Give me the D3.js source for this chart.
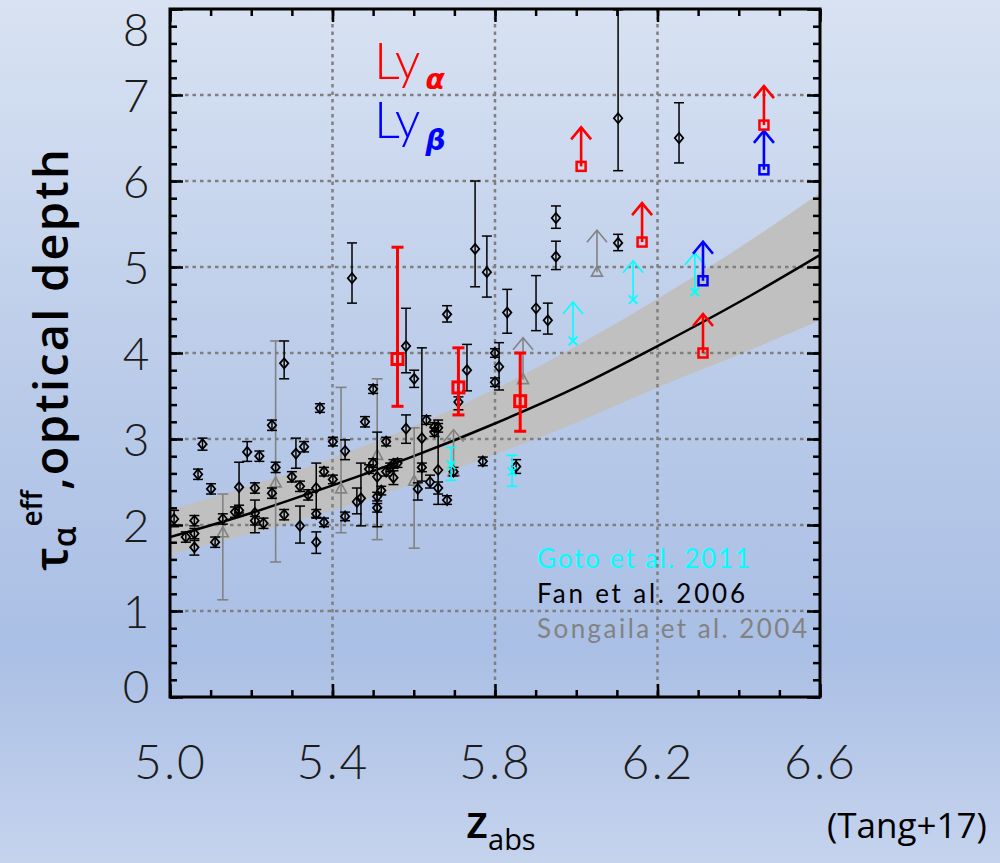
<!DOCTYPE html>
<html><head><meta charset="utf-8">
<script src="https://cdn.jsdelivr.net/npm/d3@7"></script>
<style>
html,body{margin:0;padding:0;}
body{width:1000px;height:863px;overflow:hidden;}
</style></head><body>
<svg id="c" width="1000" height="863"></svg>
<script>
// ---------------- DATA ----------------
// Fan et al. 2006 : [z, tau, lo, hi]
const fanData = [
[5.010,2.07,1.98,2.17],[5.039,1.86,1.80,1.92],[5.060,2.05,1.99,2.11],[5.060,1.90,1.84,1.96],
[5.060,1.74,1.65,1.82],[5.069,2.59,2.53,2.65],[5.080,2.94,2.87,3.01],[5.101,2.42,2.36,2.48],
[5.111,1.80,1.74,1.86],[5.130,2.07,2.01,2.13],[5.160,2.15,2.09,2.21],[5.170,2.17,2.11,2.23],
[5.170,2.44,2.14,2.73],[5.190,2.85,2.74,2.97],[5.209,2.43,2.37,2.49],[5.209,2.14,1.91,2.29],
[5.209,2.05,2.00,2.10],[5.220,2.80,2.74,2.86],[5.230,2.02,1.96,2.08],[5.251,3.16,3.10,3.22],
[5.251,2.37,2.31,2.43],[5.260,2.67,2.61,2.73],[5.281,3.88,3.70,4.14],[5.281,2.12,2.06,2.18],
[5.300,2.56,2.50,2.62],[5.310,2.83,2.66,3.01],[5.320,2.45,2.39,2.51],[5.320,1.99,1.79,2.22],
[5.330,2.91,2.85,2.97],[5.340,2.35,2.29,2.41],[5.360,2.43,2.09,2.72],[5.360,2.13,2.08,2.18],
[5.360,1.80,1.67,1.92],[5.369,3.36,3.31,3.41],[5.379,2.62,2.57,2.67],[5.379,2.03,1.98,2.08],
[5.401,2.97,2.92,3.02],[5.401,2.53,2.48,2.58],[5.431,2.86,2.76,2.99],[5.431,2.10,2.05,2.15],
[5.448,4.87,4.58,5.28],[5.460,2.27,2.13,2.43],[5.470,2.31,1.99,2.72],[5.480,3.20,3.14,3.26],
[5.490,2.65,2.60,2.70],[5.500,3.58,3.53,3.63],[5.500,2.72,2.67,2.77],[5.510,2.56,1.98,3.08],
[5.510,2.33,2.28,2.38],[5.510,2.20,2.15,2.25],[5.520,2.40,2.35,2.45],[5.532,2.97,2.92,3.02],
[5.532,2.62,2.57,2.67],[5.542,2.67,2.62,2.72],[5.550,2.55,2.47,2.63],[5.550,2.71,2.66,2.76],
[5.560,2.72,2.67,2.77],[5.581,4.08,3.77,4.52],[5.581,3.12,2.95,3.28],[5.601,3.70,3.60,3.80],
[5.610,2.42,2.29,2.49],[5.620,3.01,2.51,4.06],[5.620,2.67,2.62,2.72],[5.631,3.22,3.17,3.27],
[5.640,2.50,2.43,2.58],[5.651,3.14,3.09,3.19],[5.660,3.13,3.08,3.18],[5.651,3.08,3.03,3.13],
[5.660,2.64,2.24,3.22],[5.660,2.43,2.36,2.50],[5.682,4.45,4.36,4.55],[5.682,2.29,2.24,2.34],
[5.698,2.62,2.57,2.67],[5.710,3.43,3.34,3.49],[5.731,3.80,3.56,4.10],[5.751,5.21,4.77,6.00],
[5.770,2.74,2.69,2.79],[5.780,4.94,4.65,5.36],[5.800,4.00,3.95,4.05],[5.810,3.84,3.57,4.12],
[5.800,3.66,3.61,3.71],[5.830,4.47,4.23,4.74],[5.852,2.68,2.60,2.76],[5.901,4.52,4.26,4.90],
[5.930,4.38,4.22,4.58],[5.950,5.57,5.45,5.71],[5.950,5.12,4.97,5.30],[6.103,6.73,6.12,7.99],
[6.103,5.28,5.19,5.38],[6.253,6.50,6.21,6.91]
];
// Songaila et al. 2004
const songailaData = [[5.130,1.91,1.13,2.36],[5.260,2.49,1.57,4.14],[5.421,2.42,1.91,3.60],[5.510,2.81,1.83,3.70],[5.601,2.51,1.73,3.13]];
const songailaLimits = [[5.698,2.62],[5.869,3.69],[6.051,4.94]];
// Goto et al. 2011
const gotoData = [[5.692,2.70,2.52,2.90],[5.842,2.62,2.45,2.81]];
const gotoLimits = [[5.992,4.14],[6.140,4.62],[6.292,4.71]];
// Tang+17 Ly alpha / Ly beta
const lyaData = [[5.560,3.93,3.38,5.23],[5.710,3.60,3.28,4.06],[5.862,3.44,3.09,4.00]];
const lyaLimits = [[6.012,6.17],[6.162,5.29],[6.312,4.00],[6.462,6.65]];
const lybLimits = [[6.312,4.84],[6.462,6.13]];
// best-fit curve and band
const fitZ   = [5.0, 5.2, 5.4, 5.6, 5.8, 6.0, 6.2, 6.4, 6.6];
const fitTau = [1.86,2.14,2.46,2.80,3.18,3.60,4.08,4.59,5.14];
const fitLo  = [1.66,1.90,2.17,2.48,2.82,3.19,3.60,3.98,4.38];
const fitHi  = [2.18,2.46,2.78,3.15,3.58,4.08,4.63,5.22,5.86];
// ticks
const xMajor = [5.0,5.4,5.8,6.2,6.6];
const yMajor = [0,1,2,3,4,5,6,7,8];
const legendLabels = ["Goto et al. 2011","Fan et al. 2006","Songaila et al. 2004"];

// ---------------- DRAW ----------------
const svg = d3.select("#c");
const defs = svg.append("defs");
const grad = defs.append("linearGradient").attr("id","bg").attr("x1",0).attr("y1",0).attr("x2",0).attr("y2",1);
[[0,"#d8e2f2"],[0.45,"#bacbe9"],[0.75,"#aabfe5"],[1,"#c5d3ed"]].forEach(s=>grad.append("stop").attr("offset",s[0]).attr("stop-color",s[1]));
svg.append("rect").attr("width",1000).attr("height",863).attr("fill","url(#bg)");

const L=170, R=820, T=9, B=697;
const x = d3.scaleLinear().domain([5.0,6.6]).range([L,R]);
const y = d3.scaleLinear().domain([0,8]).range([B,T]);

defs.append("clipPath").attr("id","clip").append("rect").attr("x",L).attr("y",T).attr("width",R-L).attr("height",B-T);
const plot = svg.append("g").attr("clip-path","url(#clip)");

// band
const bandIdx = d3.range(fitZ.length);
plot.append("path").datum(bandIdx)
  .attr("d", d3.area().x(i=>x(fitZ[i])).y0(i=>y(fitLo[i])).y1(i=>y(fitHi[i])).curve(d3.curveMonotoneX))
  .attr("fill","#c0c0c0");

// grid
const gridC = "#7f7f7f";
plot.selectAll(".gx").data([5.4,5.8,6.2]).join("line")
  .attr("x1",d=>x(d)).attr("x2",d=>x(d)).attr("y1",T).attr("y2",B)
  .attr("stroke",gridC).attr("stroke-width",2.5).attr("stroke-dasharray","3.5,4");
plot.selectAll(".gy").data([1,2,3,4,5,6,7]).join("line")
  .attr("y1",d=>y(d)).attr("y2",d=>y(d)).attr("x1",L).attr("x2",R)
  .attr("stroke",gridC).attr("stroke-width",2.5).attr("stroke-dasharray","3.5,4");

// fit line
plot.append("path").datum(bandIdx)
  .attr("d", d3.line().x(i=>x(fitZ[i])).y(i=>y(fitTau[i])).curve(d3.curveMonotoneX))
  .attr("fill","none").attr("stroke","#000").attr("stroke-width",2.5);

// helpers
function errBars(g, data, color, sw, cap){
  const e = g.append("g").attr("stroke",color).attr("stroke-width",sw).attr("fill","none");
  e.selectAll(".v").data(data).join("line")
    .attr("x1",d=>x(d[0])).attr("x2",d=>x(d[0])).attr("y1",d=>y(d[2])).attr("y2",d=>y(d[3]));
  e.selectAll(".lo").data(data).join("line")
    .attr("x1",d=>x(d[0])-cap).attr("x2",d=>x(d[0])+cap).attr("y1",d=>y(d[2])).attr("y2",d=>y(d[2]));
  e.selectAll(".hi").data(data).join("line")
    .attr("x1",d=>x(d[0])-cap).attr("x2",d=>x(d[0])+cap).attr("y1",d=>y(d[3])).attr("y2",d=>y(d[3]));
}
function arrows(g, data, color, sw, len, arm, drop){
  const a = g.append("g").attr("stroke",color).attr("stroke-width",sw).attr("fill","none");
  a.selectAll(".s").data(data).join("line")
    .attr("x1",d=>x(d[0])).attr("x2",d=>x(d[0])).attr("y1",d=>y(d[1])).attr("y2",d=>y(d[1])-len);
  a.selectAll(".h").data(data).join("polyline")
    .attr("points",d=>{const cx=x(d[0]), ty=y(d[1])-len; return `${cx-arm},${ty+drop} ${cx},${ty} ${cx+arm},${ty+drop}`;});
}
const diamond = {draw(ctx){ctx.moveTo(0,-5);ctx.lineTo(4.2,0);ctx.lineTo(0,5);ctx.lineTo(-4.2,0);ctx.closePath();}};
const tri = {draw(ctx){ctx.moveTo(0,-6);ctx.lineTo(5.5,4);ctx.lineTo(-5.5,4);ctx.closePath();}};

// Songaila (gray)
const gray = "#828282";
errBars(plot, songailaData, gray, 1.6, 5.5);
arrows(plot, songailaLimits, gray, 1.6, 42, 10, 12);
plot.append("g").selectAll("path").data(songailaData.concat(songailaLimits)).join("path")
  .attr("d", d3.symbol().type(tri)).attr("transform",d=>`translate(${x(d[0])},${y(d[1])})`)
  .attr("fill","none").attr("stroke",gray).attr("stroke-width",1.6);

// Fan (black)
errBars(plot, fanData, "#000", 1.5, 5);
plot.append("g").selectAll("path").data(fanData).join("path")
  .attr("d", d3.symbol().type(diamond)).attr("transform",d=>`translate(${x(d[0])},${y(d[1])})`)
  .attr("fill","none").attr("stroke","#000").attr("stroke-width",1.8);

// Goto (cyan)
const cyan = "#00ffff";
errBars(plot, gotoData, cyan, 1.6, 5.5);
arrows(plot, gotoLimits, cyan, 1.6, 39, 10, 12);
const crosses = plot.append("g").attr("stroke",cyan).attr("stroke-width",1.8);
crosses.selectAll("path").data(gotoData.concat(gotoLimits)).join("path")
  .attr("d", d3.symbol().type(d3.symbolX).size(50)).attr("transform",d=>`translate(${x(d[0])},${y(d[1])})`);

// Ly alpha / beta
const red = "#ff0000", blue = "#0000ff";
errBars(plot, lyaData, red, 3, 6);
arrows(plot, lyaLimits, red, 2.6, 39, 10, 12);
arrows(plot, lybLimits, blue, 2.6, 39, 10, 12);
plot.append("g").selectAll("rect").data(lyaData).join("rect")
  .attr("x",d=>x(d[0])-5.5).attr("y",d=>y(d[1])-5.5).attr("width",11).attr("height",11)
  .attr("fill","none").attr("stroke",red).attr("stroke-width",3);
plot.append("g").selectAll("rect").data(lyaLimits).join("rect")
  .attr("x",d=>x(d[0])-4.5).attr("y",d=>y(d[1])-4.5).attr("width",9).attr("height",9)
  .attr("fill","none").attr("stroke",red).attr("stroke-width",2.5);
plot.append("g").selectAll("rect").data(lybLimits).join("rect")
  .attr("x",d=>x(d[0])-4.5).attr("y",d=>y(d[1])-4.5).attr("width",9).attr("height",9)
  .attr("fill","none").attr("stroke",blue).attr("stroke-width",2.5);

// ---------------- AXES ----------------
const tickFont = "Lato, 'DejaVu Sans', sans-serif";
const xMinor = d3.range(5.0,6.6001,0.1).map(v=>+v.toFixed(2));
const yMinor = d3.range(0,8.0001,0.2).map(v=>+v.toFixed(2));
function styleAxis(g){ g.select(".domain").remove(); g.selectAll("line").attr("stroke","#000").attr("stroke-width",2.5); }

svg.append("g").attr("transform",`translate(0,${B})`).call(d3.axisBottom(x).tickValues(xMinor).tickSize(-7).tickFormat("")).call(styleAxis);
svg.append("g").attr("transform",`translate(0,${T})`).call(d3.axisTop(x).tickValues(xMinor).tickSize(-7).tickFormat("")).call(styleAxis);
svg.append("g").attr("transform",`translate(${L},0)`).call(d3.axisLeft(y).tickValues(yMinor).tickSize(-7).tickFormat("")).call(styleAxis);
svg.append("g").attr("transform",`translate(${R},0)`).call(d3.axisRight(y).tickValues(yMinor).tickSize(-7).tickFormat("")).call(styleAxis);

const xb = svg.append("g").attr("transform",`translate(0,${B})`)
  .call(d3.axisBottom(x).tickValues(xMajor).tickSize(-13).tickPadding(48).tickFormat(d3.format(".1f"))).call(styleAxis);
xb.selectAll("text").attr("font-family",tickFont).attr("font-weight",300).attr("font-size",48).attr("fill","#1c1c1c")
  .attr("letter-spacing",2);
svg.append("g").attr("transform",`translate(0,${T})`).call(d3.axisTop(x).tickValues(xMajor).tickSize(-13).tickFormat("")).call(styleAxis);
const yl = svg.append("g").attr("transform",`translate(${L},0)`)
  .call(d3.axisLeft(y).tickValues(yMajor).tickSize(-13).tickFormat(d3.format("d"))).call(styleAxis);
yl.selectAll("text").attr("font-family",tickFont).attr("font-weight",300).attr("font-size",46).attr("fill","#1c1c1c")
  .attr("text-anchor","middle").attr("x",-34)
  .attr("dy",d=> d===8 ? "0.8em" : d===0 ? "0.12em" : "0.36em");
svg.append("g").attr("transform",`translate(${R},0)`).call(d3.axisRight(y).tickValues(yMajor).tickSize(-13).tickFormat("")).call(styleAxis);

// frame
svg.append("rect").attr("x",L).attr("y",T).attr("width",R-L).attr("height",B-T)
  .attr("fill","none").attr("stroke","#000").attr("stroke-width",3);

// ---------------- TEXT ----------------
// Ly labels
const lyFont = "Lato, 'DejaVu Sans', sans-serif";
const lya = svg.append("text").attr("x",374).attr("y",79).attr("font-family",lyFont).attr("font-weight",300).attr("font-size",51).attr("fill",red);
lya.append("tspan").text("Ly");
lya.append("tspan").attr("dy",10).attr("dx",5).attr("font-size",28).attr("font-weight",700).attr("font-style","italic").attr("font-family","'DejaVu Sans', sans-serif").text("α");
const lyb = svg.append("text").attr("x",374).attr("y",138).attr("font-family",lyFont).attr("font-weight",300).attr("font-size",51).attr("fill",blue);
lyb.append("tspan").text("Ly");
lyb.append("tspan").attr("dy",12).attr("dx",5).attr("font-size",28).attr("font-weight",700).attr("font-style","italic").attr("font-family","'DejaVu Sans', sans-serif").text("β");

// legend
const legColors = [cyan,"#000",gray];
const legWidths = [213,208,270];
svg.append("g").selectAll("text").data(legendLabels).join("text")
  .attr("x",537).attr("y",(d,i)=>568+i*35).attr("fill",(d,i)=>legColors[i])
  .attr("font-family","Lato, sans-serif").attr("font-weight",400).attr("font-size",26)
  .attr("textLength",(d,i)=>legWidths[i]).attr("lengthAdjust","spacing")
  .text(d=>d);

// y axis title
const yt = svg.append("text").attr("transform","translate(68,359) rotate(-90)").attr("text-anchor","middle")
  .attr("font-family","'Open Sans', 'Noto Sans', sans-serif").attr("font-weight",600).attr("font-size",47).attr("fill","#000");
yt.append("tspan").text("τ");
yt.append("tspan").attr("font-size",33).attr("dy",8).text("α");
yt.append("tspan").attr("font-size",28).attr("dy",-34).text("eff");
yt.append("tspan").attr("font-size",47).attr("dy",26).attr("letter-spacing",2.2).text(",optical depth");

// x axis title
const xt = svg.append("text").attr("x",466).attr("y",838).attr("font-family","'Open Sans', 'Noto Sans', sans-serif").attr("font-weight",600).attr("font-size",46).attr("fill","#000");
xt.append("tspan").text("z");
xt.append("tspan").attr("font-size",29).attr("font-weight",400).attr("dy",12).text("abs");

svg.append("text").attr("x",827).attr("y",838).attr("font-family","'Open Sans', 'Noto Sans', sans-serif").attr("font-size",35).attr("fill","#000").text("(Tang+17)");
</script>
</body></html>
